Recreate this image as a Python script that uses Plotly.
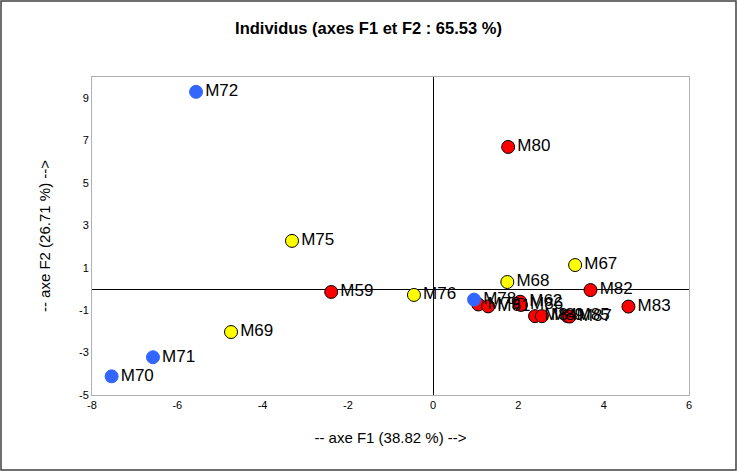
import plotly.graph_objects as go

# coordonnees des individus
noms = ["M72", "M75", "M59", "M76", "M69", "M71", "M70", "M80", "M68", "M67",
        "M82", "M83", "M78", "M79", "M61", "M62", "M86", "M84", "M89", "M85", "M87"]
f1 = [-5.56, -3.31, -2.39, -0.45, -4.74, -6.57, -7.54, 1.76, 1.74, 3.33,
      3.69, 4.58, 0.96, 1.06, 1.29, 2.04, 2.06, 2.39, 2.55, 3.15, 3.20]
f2 = [9.30, 2.27, -0.14, -0.28, -2.03, -3.22, -4.12, 6.70, 0.33, 1.13,
      -0.05, -0.83, -0.50, -0.73, -0.82, -0.60, -0.75, -1.28, -1.28, -1.28, -1.30]
groupe = ["bleu", "jaune", "rouge", "jaune", "jaune", "bleu", "bleu", "rouge", "jaune", "jaune",
          "rouge", "rouge", "bleu", "rouge", "rouge", "rouge", "rouge", "rouge", "rouge", "rouge", "rouge"]
ticks_x = [-8, -6, -4, -2, 0, 2, 4, 6]
ticks_y = [-5, -3, -1, 1, 3, 5, 7, 9]

couleurs = {"rouge": "#FF0000", "jaune": "#FFFF00", "bleu": "#3366FF"}
bords = {"rouge": "black", "jaune": "black", "bleu": "#3366FF"}

fig = go.Figure()
for g in ["rouge", "jaune", "bleu"]:
    idx = [i for i, v in enumerate(groupe) if v == g]
    fig.add_trace(go.Scatter(
        x=[f1[i] for i in idx],
        y=[f2[i] for i in idx],
        text=[noms[i] for i in idx],
        mode="markers+text",
        textposition="middle right",
        textfont=dict(family="Liberation Sans, Arial", size=17, color="black"),
        marker=dict(size=13, color=couleurs[g], line=dict(color=bords[g], width=1)),
        showlegend=False,
        cliponaxis=False,
    ))

axe = dict(
    showgrid=False,
    zeroline=True, zerolinecolor="black", zerolinewidth=1,
    showline=True, linecolor="#b0b0b0", linewidth=1, mirror=True,
    ticks="", tickfont=dict(family="Liberation Sans, Arial", size=11, color="black"),
    title_font=dict(family="Liberation Sans, Arial", size=15, color="black"),
)

fig.update_xaxes(axe, range=[-8, 6], tickvals=ticks_x, ticktext=[str(v) for v in ticks_x],
                 title_text="-- axe F1 (38.82 %) -->", title_standoff=22)
fig.update_yaxes(axe, range=[-5, 10], tickvals=ticks_y, ticktext=[str(v) for v in ticks_y],
                 title_text="-- axe F2 (26.71 %) -->", title_standoff=24)

fig.update_layout(
    width=737, height=471,
    margin=dict(l=92, r=48, t=77, b=76),
    paper_bgcolor="white", plot_bgcolor="white",
    title=dict(text="<b>Individus (axes F1 et F2 : 65.53 %)</b>", x=0.5, xanchor="center",
               y=0.94, yanchor="middle",
               font=dict(family="Liberation Sans, Arial", size=16.5, color="black")),
    shapes=[dict(type="rect", xref="paper", yref="paper",
                 x0=-91 / 597, x1=1 + 47 / 597, y0=-75 / 318, y1=1 + 76 / 318,
                 line=dict(color="#404040", width=1.5))],
)

fig.write_html("out.html", config={"displayModeBar": False},
               post_script="document.body.style.margin='0';")
